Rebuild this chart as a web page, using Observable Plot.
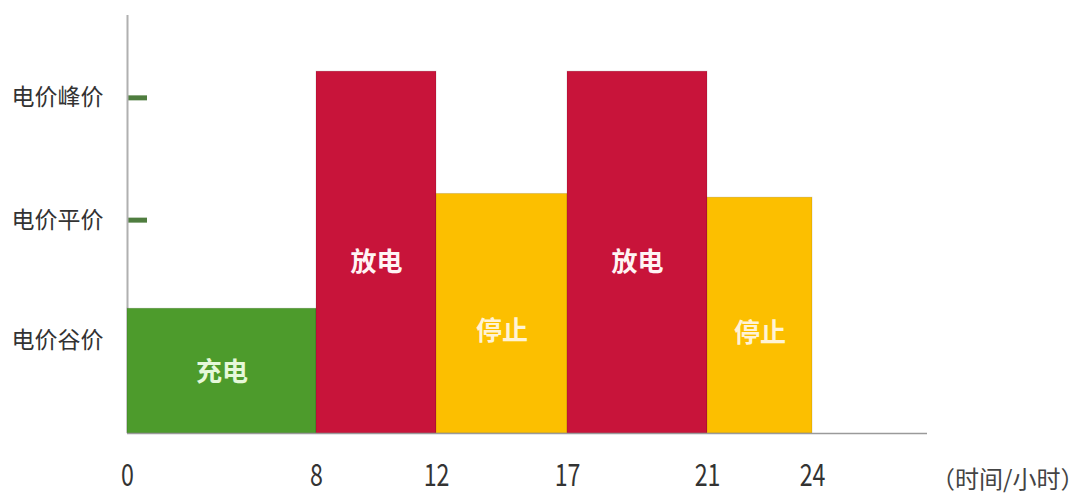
<!DOCTYPE html>
<html><head><meta charset="utf-8">
<script src="https://cdn.jsdelivr.net/npm/d3@7"></script>
<script src="https://cdn.jsdelivr.net/npm/@observablehq/plot@0.6"></script>
<style>body{margin:0;background:#fff} svg{display:block}</style>
</head><body><div id="chart"></div>
<script>
// Time segments (hours) and relative price level of each segment
const segStart = [0, 8, 12, 17, 21];
const segEnd = [8, 12, 17, 21, 24];
const segLevel = [1.0, 2.9, 1.92, 2.9, 1.89];
const segMode = ["充电", "放电", "停止", "放电", "停止"];
// Price level labels on the y axis
const priceNames = ["电价谷价", "电价平价", "电价峰价"];
const priceLevels = [0.745, 1.71, 2.69];
// X tick labels
const hourTicks = [0, 8, 12, 17, 21, 24];
const xLabel = "（时间/小时）";
const modes = ["充电", "放电", "停止"];
const modeColors = ["#4d9b2c", "#c8143a", "#fcbf00"];
const modeTextColors = ["#e6f8da", "#fff4f4", "#fff3d6"];

const segments = segStart.map((s, i) => ({start: s, end: segEnd[i], level: segLevel[i], mode: segMode[i]}));
const priceLabel = new Map(priceLevels.map((v, i) => [v, priceNames[i]]));
const textColor = new Map(modes.map((m, i) => [m, modeTextColors[i]]));

const chart = Plot.plot({
  width: 1084, height: 496,
  marginLeft: 127, marginRight: 157, marginTop: 15, marginBottom: 63,
  style: {fontFamily: "'Noto Sans CJK SC', sans-serif", background: "#fff", color: "#333"},
  x: {type: "linear", domain: [0, 8, 12, 17, 21, 24, 27.3], range: [127, 316, 436, 567, 707, 812, 927], label: null},
  y: {domain: [0, 3.35], label: null},
  color: {domain: modes, range: modeColors},
  marks: [
    Plot.axisY(priceLevels, {tickSize: -20, tickPadding: 0, tickFormat: () => "", stroke: "#4f7d3f", strokeWidth: 5, label: null}),
    Plot.axisY(priceLevels, {tickSize: 0, tickPadding: 24, tickFormat: d => priceLabel.get(d), fontSize: 23, fill: "#333", label: null}),
    Plot.ruleX([0], {stroke: "#b0b0b0", strokeWidth: 2}),
    Plot.rectY(segments, {x1: "start", x2: "end", y: "level", fill: "mode", stroke: "#000", strokeOpacity: 0.12, strokeWidth: 1}),
    Plot.ruleY([0], {stroke: "#9a9a9a", strokeWidth: 1.5}),
    ...modes.map(m => Plot.text(segments.filter(d => d.mode === m), {x: d => (d.start + d.end) / 2, y: d => d.level / 2, text: "mode", fill: textColor.get(m), fontSize: 26, fontWeight: "bold", dy: m === "充电" ? 2 : m === "停止" ? 18 : 10})),
    Plot.axisX(hourTicks, {tickSize: 0, tickPadding: 30, fontSize: 27, fill: "#333", label: null}),
    Plot.text([xLabel], {frameAnchor: "bottom-right", text: d => d, dx: 157, dy: 54, textAnchor: "end", fontSize: 24, fill: "#444"})
  ]
});
// condense the hour tick labels like the reference's narrow digits
d3.select(chart).selectAll('g[aria-label="x-axis tick label"] text')
  .attr("transform", function() { return (this.getAttribute("transform") || "") + " scale(0.86,1.16)"; });
document.getElementById("chart").appendChild(chart);
</script>
</body></html>
